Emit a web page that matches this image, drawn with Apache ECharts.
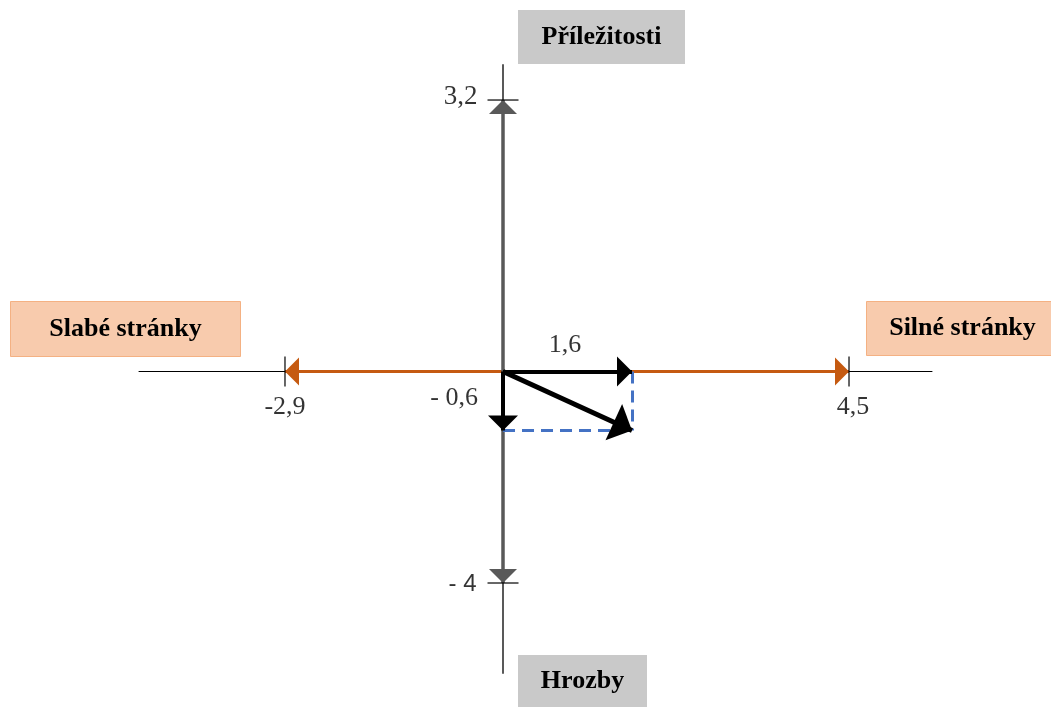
<!DOCTYPE html>
<html>
<head>
<meta charset="utf-8">
<script src="https://cdn.jsdelivr.net/npm/echarts@6/dist/echarts.min.js"></script>
<style>
  html, body { margin: 0; padding: 0; background: #ffffff; }
  #chart { width: 1051px; height: 707px; }
</style>
</head>
<body>
<div id="chart"></div>
<script>
// ---- Data ----
const strengths = 4.5;          // Silné stránky
const weaknesses = -2.9;        // Slabé stránky
const opportunities = 3.2;      // Příležitosti
const threats = -4;             // Hrozby
const resultant = [1.6, -0.6];  // resulting strategic position
const xTickLabels = ['-2,9', '4,5'];
const yTickLabels = ['3,2', '- 4'];
const vectorLabels = ['1,6', '- 0,6'];
const boxTitles = ['Příležitosti', 'Hrozby', 'Slabé stránky', 'Silné stránky'];

const SERIF = "'Liberation Serif', 'Times New Roman', serif";
const SANS = "'Liberation Sans', Arial, sans-serif";
const ORANGE = '#C55A11';
const GRAY = '#595959';
const BLUE = '#4472C4';
// triangle whose tip sits at the centre of its box, so the tip lands on the data point
const HEAD = 'path://M0,-20L0,-20M0,0L10,20L-10,20Z';

function arrow(name, xi, yi, from, to, color, width, size, z) {
  return {
    name: name, type: 'lines', coordinateSystem: 'cartesian2d',
    xAxisIndex: xi, yAxisIndex: yi, z: z, silent: true,
    symbol: ['none', HEAD], symbolSize: size,
    lineStyle: { color: color, width: width, opacity: 1, cap: 'butt' },
    itemStyle: { color: color },
    data: [{ coords: [from, to] }]
  };
}
function dashed(name, from, to) {
  return {
    name: name, type: 'lines', coordinateSystem: 'cartesian2d',
    xAxisIndex: 3, yAxisIndex: 3, z: 4, silent: true, symbol: ['none', 'none'],
    lineStyle: { color: BLUE, width: 3, type: [12, 7], opacity: 1 },
    data: [{ coords: [from, to] }]
  };
}
function tick(name, xi, yi, pt, size, text, pos, dist, font, fs, offset) {
  return {
    name: name, type: 'scatter', xAxisIndex: xi, yAxisIndex: yi, z: 6, silent: true,
    symbol: 'rect', symbolSize: size,
    itemStyle: { color: '#000000' },
    label: { show: true, formatter: text, position: pos, distance: dist,
      offset: offset || [0, 0],
      color: '#000000', fontFamily: font, fontSize: fs },
    data: [pt]
  };
}
function valueLabel(name, pt, text, pos, dist, offset) {
  return {
    name: name, type: 'scatter', xAxisIndex: 3, yAxisIndex: 3, z: 7, silent: true,
    symbolSize: 0,
    label: { show: true, formatter: text, position: pos, distance: dist, offset: offset,
      color: '#000000', fontFamily: SERIF, fontSize: 26 },
    data: [pt]
  };
}
function box(x, y, w, h, fill, stroke, text) {
  return {
    type: 'group', left: x, top: y, children: [
      { type: 'rect', shape: { x: 0, y: 0, width: w, height: h },
        style: { fill: fill, stroke: stroke || null, lineWidth: stroke ? 1 : 0 } },
      { type: 'text', x: w / 2, y: h / 2,
        style: { text: text, x: 0, y: 0, align: 'center', verticalAlign: 'middle',
          font: "bold 26px 'Liberation Serif', 'Times New Roman', serif", fill: '#000000' } }
    ]
  };
}

const hiddenAxis = (gi, min, max) => ({ type: 'value', gridIndex: gi, min: min, max: max, show: false });

const option = {
  backgroundColor: '#ffffff',
  animation: false,
  grid: [
    { left: 139, right: 119, top: 65, bottom: 34, containLabel: false },
    { left: 0, right: 0, top: 0, bottom: 0, containLabel: false }
  ],
  xAxis: [
    { type: 'value', gridIndex: 0, min: -364, max: 429,
      axisLine: { show: true, onZero: true, lineStyle: { color: '#000000', width: 1 } },
      axisTick: { show: false }, axisLabel: { show: false }, splitLine: { show: false } },
    hiddenAxis(1, -6.542, 7.127),   // positive strengths scale
    hiddenAxis(1, -6.691, 7.290),   // negative weaknesses scale
    hiddenAxis(1, -6.239, 6.797)    // resultant vector scale
  ],
  yAxis: [
    { type: 'value', gridIndex: 0, min: -301.5, max: 306.5,
      axisLine: { show: true, onZero: true, lineStyle: { color: GRAY, width: 2 } },
      axisTick: { show: false }, axisLabel: { show: false }, splitLine: { show: false } },
    hiddenAxis(1, -3.954, 4.379),   // opportunities scale
    hiddenAxis(1, -6.345, 7.026),   // threats scale
    hiddenAxis(1, -3.412, 3.778)    // resultant vector scale
  ],
  graphic: [
    box(518, 10, 167, 54, '#C9C9C9', null, boxTitles[0]),
    box(518, 655, 129, 52, '#C9C9C9', null, boxTitles[1]),
    box(10, 301, 230, 55, '#F8CBAD', '#F4B183', boxTitles[2]),
    box(866, 301, 192, 54, '#F8CBAD', '#F4B183', boxTitles[3])
  ],
  series: [
    arrow('Silné stránky', 1, 1, [0, 0], [strengths, 0], ORANGE, 3, [12, 28], 2),
    arrow('Slabé stránky', 2, 1, [0, 0], [weaknesses, 0], ORANGE, 3, [12, 28], 2),
    arrow('Příležitosti', 1, 1, [0, 0], [0, opportunities], GRAY, 3.5, [14, 28], 3),
    arrow('Hrozby', 1, 2, [0, 0], [0, threats], GRAY, 3.5, [14, 28], 3),
    dashed('Průmět X', [resultant[0], 0], resultant),
    dashed('Průmět Y', [0, resultant[1]], resultant),
    arrow('Vektor X', 3, 3, [0, 0], [resultant[0], 0], '#000000', 4, [13, 30], 5),
    arrow('Vektor Y', 3, 3, [0, 0], [0, resultant[1]], '#000000', 4, [13, 30], 5),
    arrow('Výsledný vektor', 3, 3, [0, 0], resultant, '#000000', 5, [14, 40], 5),
    tick('tick W', 2, 1, [weaknesses, 0], [1.5, 30], xTickLabels[0], 'bottom', 8, SERIF, 26),
    tick('tick S', 1, 1, [strengths, 0], [1.5, 30], xTickLabels[1], 'bottom', 8, SERIF, 26, [4, 0]),
    tick('tick O', 1, 1, [0, opportunities], [31, 1.5], yTickLabels[0], 'left', 10, SERIF, 27, [0, -3]),
    tick('tick T', 1, 2, [0, threats], [31, 1.5], yTickLabels[1], 'left', 11, SANS, 24, [0, 1]),
    valueLabel('lab X', [resultant[0], 0], vectorLabels[0], 'top', 13, [-67, 0]),
    valueLabel('lab Y', [0, resultant[1]], vectorLabels[1], 'left', 25, [0, -32])
  ]
};

const chart = echarts.init(document.getElementById('chart'), null, { renderer: 'canvas' });
chart.setOption(option);
</script>
</body>
</html>
